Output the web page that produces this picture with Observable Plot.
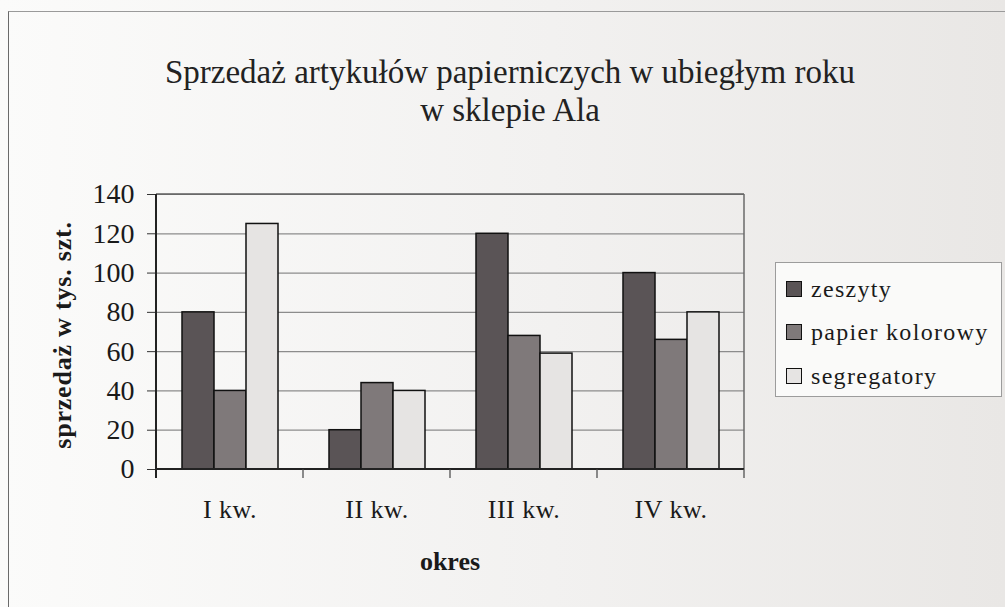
<!DOCTYPE html>
<html>
<head>
<meta charset="utf-8">
<script src="https://cdn.jsdelivr.net/npm/d3@7"></script>
<script src="https://cdn.jsdelivr.net/npm/@observablehq/plot@0.6"></script>
<style>
  html, body { margin: 0; padding: 0; }
  body {
    width: 1005px; height: 607px; overflow: hidden; position: relative;
    background: linear-gradient(90deg, #fbfbfa 0%, #f2f1f0 55%, #e9e7e5 100%);
    font-family: "Liberation Serif", "Times New Roman", serif;
  }
  #frame { position: absolute; left: 8px; top: 11px; width: 1100px; height: 700px;
    border-left: 1.5px solid #6a6a6a; border-top: 1.5px solid #9a9a9a; }
  #chart { position: absolute; left: 0; top: 0; }
  .title { position: absolute; left: 0; width: 1020px; text-align: center; font-size: 33px; color: #222; }
  #ylabel { position: absolute; left: 63px; top: 335px; transform: translate(-50%, -50%) rotate(-90deg);
    white-space: nowrap; font-weight: bold; font-size: 26px; letter-spacing: 0.8px; color: #1a1a1a; }
  #xlabel { position: absolute; left: 450px; top: 562px; transform: translate(-50%, -50%);
    font-weight: bold; font-size: 26px; color: #1a1a1a; }
  #legend { position: absolute; left: 775px; top: 262px; width: 227px; height: 135px;
    border: 1px solid #9c9c9c; background: #fafaf9; box-sizing: border-box; }
  .item { position: absolute; left: 10px; height: 24px; display: flex; align-items: center;
    font-size: 24px; letter-spacing: 1.3px; color: #1a1a1a; white-space: nowrap; }
  .sw { width: 16px; height: 16px; border: 1.5px solid #111; margin-right: 9px; box-sizing: border-box; }
</style>
</head>
<body>
<div id="frame"></div>
<div id="chart"></div>
<div class="title" style="top:54px">Sprzedaż artykułów papierniczych w ubiegłym roku</div>
<div class="title" style="top:92px">w sklepie Ala</div>
<div id="ylabel">sprzedaż w tys. szt.</div>
<div id="xlabel">okres</div>
<div id="legend"></div>
<script>
// Data
const quarters = ["I kw.", "II kw.", "III kw.", "IV kw."];
const series = ["zeszyty", "papier kolorowy", "segregatory"];
const zeszyty = [80, 20, 120, 100];
const papierKolorowy = [40, 44, 68, 66];
const segregatory = [125, 40, 59, 80];
const yTicks = [0, 20, 40, 60, 80, 100, 120, 140];
const colors = ["#5a5456", "#7f797a", "#e6e4e3"];

const valuesBySeries = [zeszyty, papierKolorowy, segregatory];
const data = [];
quarters.forEach((q, qi) => {
  series.forEach((s, si) => data.push({quarter: q, series: s, value: valuesBySeries[si][qi]}));
});

const W = 1005, H = 607;
const plot = Plot.plot({
  width: W,
  height: H,
  marginLeft: 154,
  marginRight: 260,
  marginTop: 194,
  marginBottom: 138,
  style: {background: "transparent", fontFamily: "'Liberation Serif', 'Times New Roman', serif", color: "#1a1a1a"},
  fx: {domain: quarters, padding: 0, label: null, axis: null},
  x: {domain: series, paddingInner: 0, paddingOuter: 0.74, axis: null},
  y: {domain: [0, 140], label: null},
  color: {domain: series, range: colors},
  marks: [
    Plot.ruleY(yTicks, {stroke: "#8c8c8c", strokeWidth: 1.2}),
    Plot.barY(data, {fx: "quarter", x: "series", y: "value", fill: "series", stroke: "#111", strokeWidth: 1.5}),
    Plot.axisY({ticks: yTicks, tickSize: 9, tickPadding: 13, fontSize: 28, label: null, stroke: "#333"}),
    Plot.axisFx({anchor: "bottom", tickSize: 0, tickPadding: 30, fontSize: 26, label: null})
  ]
});
document.getElementById("chart").appendChild(plot);

const svg = d3.select(plot);
svg.selectAll('g[aria-label="y-axis tick label"]').attr("font-size", 28);
svg.selectAll('g[aria-label="fx-axis tick label"]').attr("font-size", 26).style("letter-spacing", "0.5px");

// Plot-area frame, axis lines and between-category ticks, placed with Plot's own scales
const fx = plot.scale("fx"), y = plot.scale("y");
const left = fx.apply(quarters[0]);
const right = fx.apply(quarters[quarters.length - 1]) + fx.bandwidth;
const y0 = y.apply(0), yTop = y.apply(140);
const g = svg.append("g");
g.append("line").attr("x1", left).attr("x2", right).attr("y1", yTop).attr("y2", yTop).attr("stroke", "#5e5e5e").attr("stroke-width", 1.5);
g.append("line").attr("x1", right).attr("x2", right).attr("y1", yTop).attr("y2", y0).attr("stroke", "#6a6a6a").attr("stroke-width", 1.5);
g.append("line").attr("x1", left).attr("x2", left).attr("y1", yTop).attr("y2", y0 + 9).attr("stroke", "#222").attr("stroke-width", 2);
g.append("line").attr("x1", left - 1).attr("x2", right).attr("y1", y0).attr("y2", y0).attr("stroke", "#222").attr("stroke-width", 2);
quarters.forEach(q => {
  const xb = fx.apply(q) + fx.bandwidth;
  g.append("line").attr("x1", xb).attr("x2", xb).attr("y1", y0).attr("y2", y0 + 9).attr("stroke", "#444").attr("stroke-width", 1.2);
});

// Legend
const legend = document.getElementById("legend");
const tops = [14, 57, 101];
series.forEach((s, i) => {
  const it = document.createElement("div");
  it.className = "item";
  it.style.top = tops[i] + "px";
  const sw = document.createElement("span");
  sw.className = "sw";
  sw.style.background = colors[i];
  it.appendChild(sw);
  it.appendChild(document.createTextNode(s));
  legend.appendChild(it);
});
</script>
</body>
</html>
